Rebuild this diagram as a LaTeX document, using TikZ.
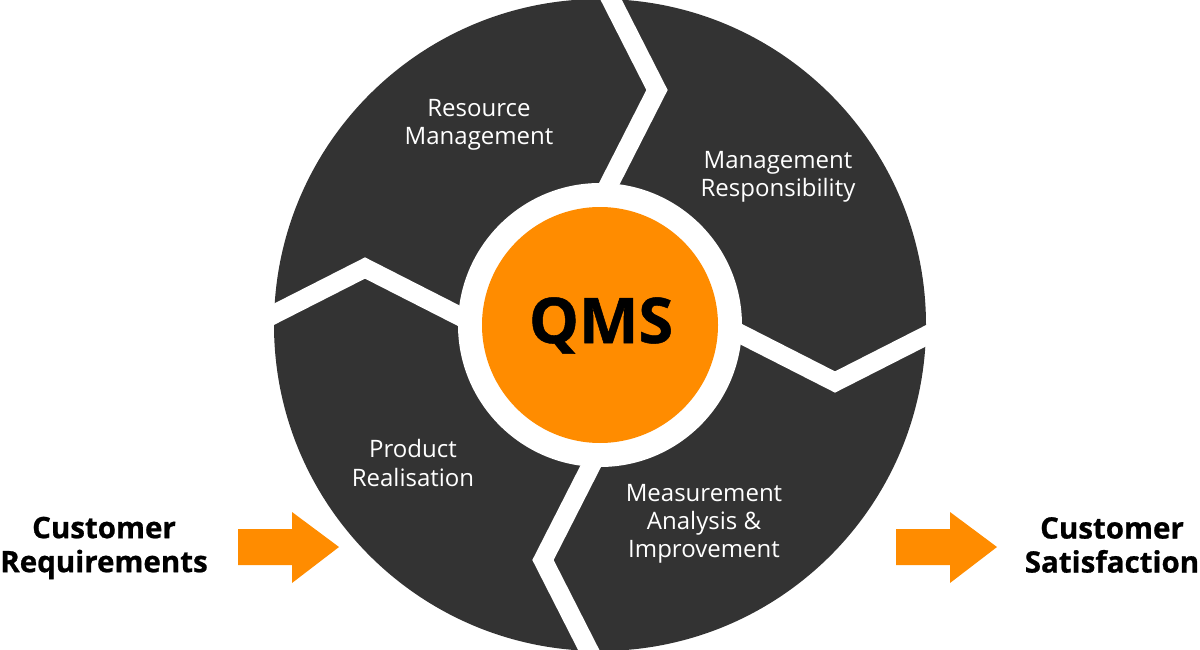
\documentclass[tikz,border=0pt]{standalone}
\usepackage{fontspec}
\setmainfont{Open Sans}
\newfontfamily\heavyfont{Open Sans}[BoldFeatures={FakeBold=0.8}]
\definecolor{qdark}{RGB}{51,51,51}
\definecolor{qorange}{RGB}{255,140,0}

\begin{document}
\begin{tikzpicture}[x=1pt,y=-1pt,
  seg/.style={text=white,align=center,inner sep=0pt,font=\fontsize{24}{28.3}\selectfont},
  cust/.style={align=center,inner sep=0pt,font=\heavyfont\bfseries\fontsize{29.5}{34}\selectfont},
  chev/.style={white,line width=19pt,miter limit=10}]
\useasboundingbox (0,0) rectangle (1200,650);
\coordinate (c) at (600,325);

\fill[qdark] (c) circle (326pt);
% white gaps between the four parts
\foreach \a in {0,90,180,270}{
\draw[chev,rotate around={-\a:(c)}] (601,200)--(657,90)--(596,-30);
}
\node[circle,fill=white,minimum size=284,inner sep=0pt] (ring) at (c) {};
\node[circle,fill=qorange,minimum size=236,inner sep=0pt] (qms) at (c) {};
\node[anchor=base,inner sep=0pt,font=\heavyfont\bfseries\fontsize{63}{70}\selectfont] (qmstext) at (601,343) {QMS};

\node[seg] (resmgmt) at (479,125) {Resource\\Management};
\node[seg] (mgmtresp) at (778,177) {Management\\Responsibility};
\node[seg] (prodreal) at (413,463) {Product\\Realisation};
\node[seg] (measure) at (704,524) {Measurement\\Analysis \&\\Improvement};

\node[cust] (custreq) at (104,548) {Customer\\Requirements};
\node[cust] (custsat) at (1112,545) {Customer\\Satisfaction};

\foreach \d in {238,896}{
\fill[qorange] (\d,529)--(\d+54,529)--(\d+54,512)--(\d+101,547)--(\d+54,583)--(\d+54,565)--(\d,565)--cycle;
}
\end{tikzpicture}
\end{document}
